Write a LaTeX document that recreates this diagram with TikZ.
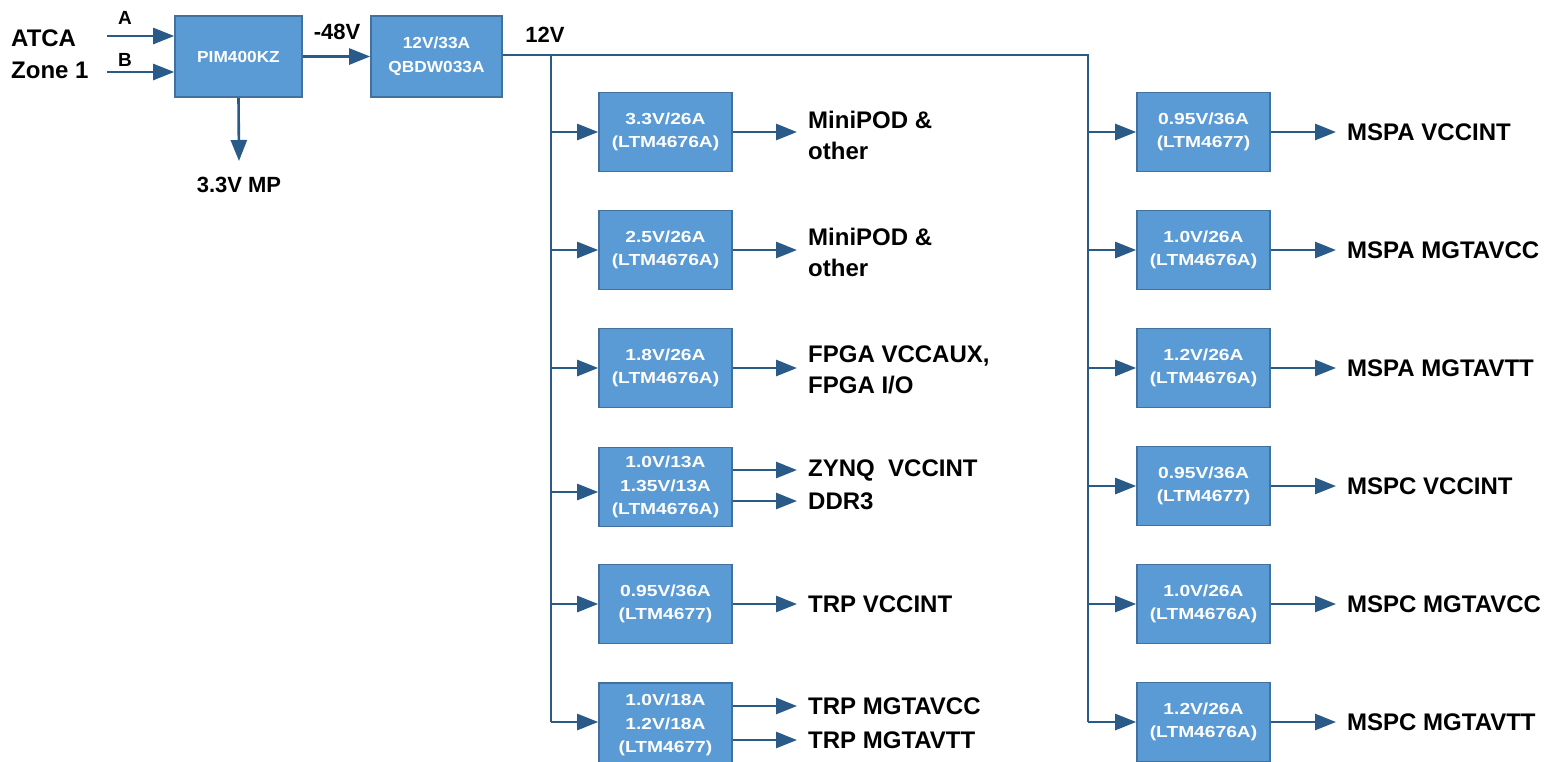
\documentclass[tikz,border=0pt]{standalone}
\usepackage{fontspec}
\setmainfont{Liberation Sans}
\newfontfamily\boxfont[FakeStretch=1.2]{Liberation Sans}
\newfontfamily\topboxfont[FakeStretch=1.08]{Liberation Sans}
\usetikzlibrary{arrows.meta}
\definecolor{boxfill}{HTML}{5B9BD5}
\definecolor{boxline}{HTML}{41719C}
\definecolor{wire}{HTML}{2A5A88}
\tikzset{
  pbox/.style={draw=boxline, line width=1.6pt, fill=boxfill, minimum width=133pt, minimum height=79pt, inner sep=0pt, align=center, text=white, font=\boxfont\fontsize{16}{23.5}\selectfont\bfseries},
  topbox/.style={pbox, font=\topboxfont\fontsize{16}{24}\selectfont\bfseries},
  lbl/.style={anchor=west, inner sep=0pt, align=left, font=\fontsize{24}{31}\selectfont\bfseries},
  sml/.style={inner sep=0pt, font=\fontsize{22}{24}\selectfont\bfseries},
  arr/.style={draw=wire, line width=2.6pt, -{Triangle[length=21pt,width=16pt]}},
  wireline/.style={draw=wire, line width=2.6pt},
}
\begin{document}
\begin{tikzpicture}[x=1pt,y=-1pt]
\useasboundingbox (0,0) rectangle (1561,761);
\clip (0,0) rectangle (1561,761);
\fill[white] (0,0) rectangle (1561,761);

% top chain
\node[lbl, font=\fontsize{24}{32}\selectfont\bfseries] (atca) at (11,54) {ATCA\\Zone 1};
\node[topbox, minimum width=127pt, minimum height=81pt] (pim) at (238.5,56.5) {PIM400KZ};
\node[topbox, minimum width=131pt, minimum height=81pt] (qb) at (436.5,56.5) {12V/33A\\QBDW033A};
\coordinate (ain) at (107,36);
\coordinate (bin) at (107,72);
\node[inner sep=0pt, font=\fontsize{19}{20}\selectfont\bfseries] (la) at (125,18) {A};
\node[inner sep=0pt, font=\fontsize{19}{20}\selectfont\bfseries] (lb) at (125,60) {B};
\draw[arr] (ain) -- (ain -| pim.west);
\draw[arr] (bin) -- (bin -| pim.west);
\node[sml] (mp) at (239,185) {3.3V MP};
\coordinate (mpend) at (239,161);
\draw[arr] (pim.south) -- (mpend);
\node[sml] (v48) at (337,32) {-48V};
\draw[arr] (pim.east) -- (qb.west);
\node[sml] (v12) at (545,35) {12V};

% buses
\coordinate (busL) at (551,55);
\coordinate (busR) at (1088,55);
\coordinate (busLend) at (551,722);
\coordinate (busRend) at (1088,722);
\draw[wireline] (qb.east |- busL) -- (busR) -- (busRend);
\draw[wireline] (busL) -- (busLend);

% left column
\node[pbox] (l1) at (665.5,132) {3.3V/26A\\(LTM4676A)};
\node[pbox] (l2) at (665.5,250) {2.5V/26A\\(LTM4676A)};
\node[pbox] (l3) at (665.5,368) {1.8V/26A\\(LTM4676A)};
\node[pbox] (l4) at (665.5,487) {1.0V/13A\\1.35V/13A\\(LTM4676A)};
\node[pbox] (l5) at (665.5,604) {0.95V/36A\\(LTM4677)};
\node[pbox, minimum height=84pt] (l6) at (665.5,725) {1.0V/18A\\1.2V/18A\\(LTM4677)};

\foreach \n/\y in {l1/132,l2/250,l3/368,l4/492,l5/604,l6/722}
  \draw[arr] (551,\y) -- (\n.west |- 0,\y);

\node[lbl] (o1) at (808,135) {MiniPOD \&\\other};
\node[lbl] (o2) at (808,252) {MiniPOD \&\\other};
\node[lbl] (o3) at (808,370) {FPGA VCCAUX,\\FPGA I/O};
\node[lbl] (o4a) at (808,470) {ZYNQ\ \ VCCINT};
\node[lbl] (o4b) at (808,501) {DDR3};
\node[lbl] (o5) at (808,604) {TRP VCCINT};
\node[lbl] (o6a) at (808,706) {TRP MGTAVCC};
\node[lbl] (o6b) at (808,740) {TRP MGTAVTT};

\draw[arr, shorten >=11pt] (l1.east |- 0,132) -- (o1.west |- 0,132);
\draw[arr, shorten >=11pt] (l2.east |- 0,250) -- (o2.west |- 0,250);
\draw[arr, shorten >=11pt] (l3.east |- 0,368) -- (o3.west |- 0,368);
\draw[arr, shorten >=11pt] (l4.east |- o4a) -- (o4a.west);
\draw[arr, shorten >=11pt] (l4.east |- o4b) -- (o4b.west);
\draw[arr, shorten >=11pt] (l5.east) -- (o5.west);
\draw[arr, shorten >=11pt] (l6.east |- o6a) -- (o6a.west);
\draw[arr, shorten >=11pt] (l6.east |- o6b) -- (o6b.west);

% right column
\node[pbox] (r1) at (1203.5,132) {0.95V/36A\\(LTM4677)};
\node[pbox] (r2) at (1203.5,250) {1.0V/26A\\(LTM4676A)};
\node[pbox] (r3) at (1203.5,368) {1.2V/26A\\(LTM4676A)};
\node[pbox] (r4) at (1203.5,486) {0.95V/36A\\(LTM4677)};
\node[pbox] (r5) at (1203.5,604) {1.0V/26A\\(LTM4676A)};
\node[pbox] (r6) at (1203.5,722) {1.2V/26A\\(LTM4676A)};

\node[lbl] (p1) at (1347,132) {MSPA VCCINT};
\node[lbl] (p2) at (1347,250) {MSPA MGTAVCC};
\node[lbl] (p3) at (1347,368) {MSPA MGTAVTT};
\node[lbl] (p4) at (1347,486) {MSPC VCCINT};
\node[lbl] (p5) at (1347,604) {MSPC MGTAVCC};
\node[lbl] (p6) at (1347,722) {MSPC MGTAVTT};

\foreach \n/\m in {r1/p1,r2/p2,r3/p3,r4/p4,r5/p5,r6/p6}{
  \draw[arr] (busR |- \n) -- (\n.west);
  \draw[arr, shorten >=11pt] (\n.east) -- (\m.west);
}
\end{tikzpicture}
\end{document}
